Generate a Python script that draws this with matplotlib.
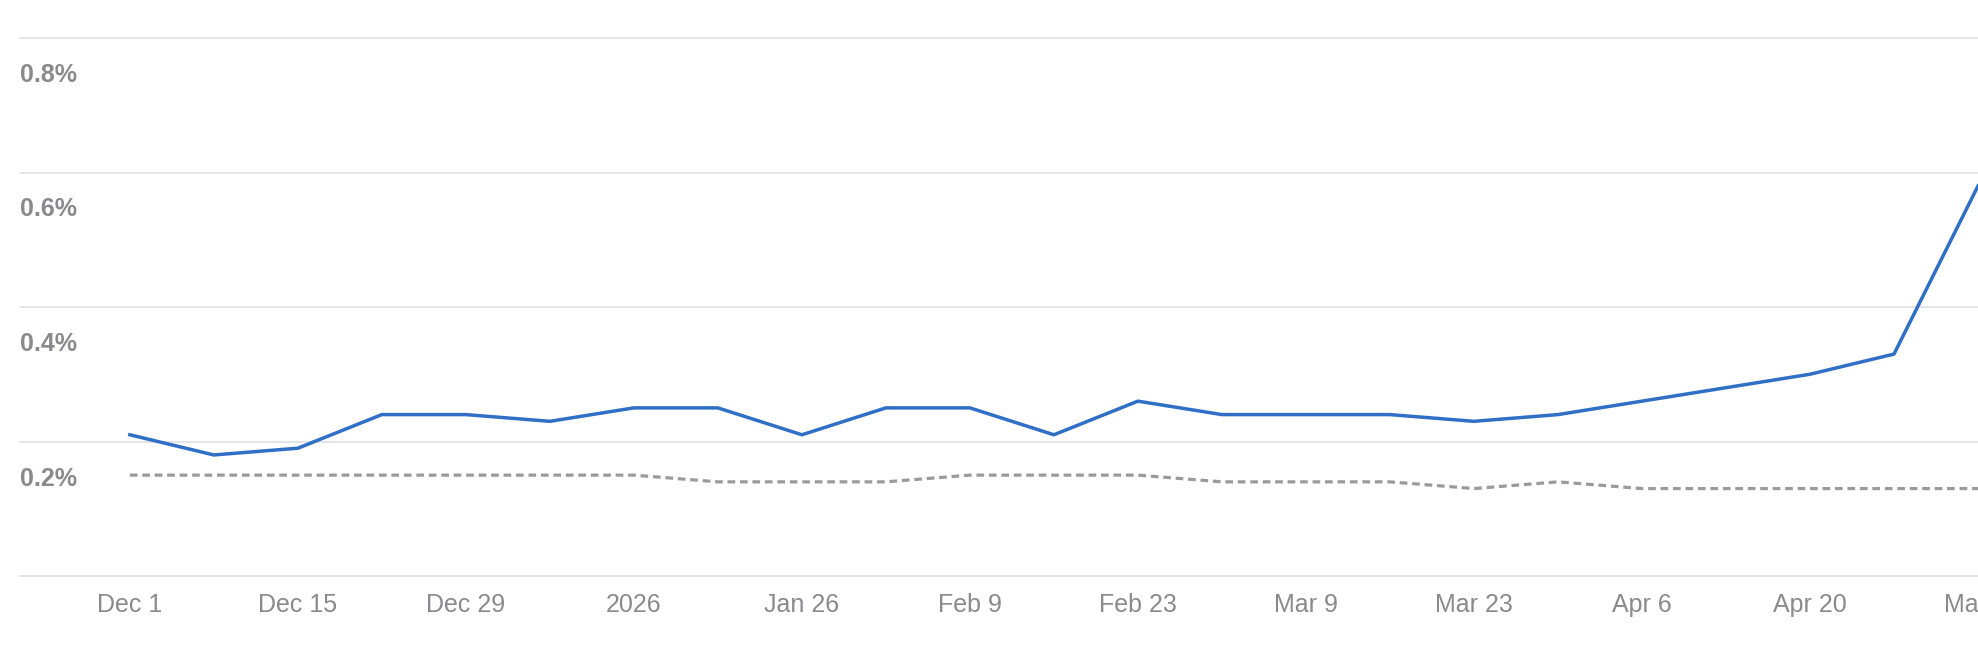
import matplotlib
matplotlib.use("Agg")
import matplotlib.pyplot as plt
import matplotlib.transforms as mtransforms
import pandas as pd

plt.rcParams['font.family'] = ['Liberation Sans', 'DejaVu Sans']

# weekly points, Dec 1 2025 .. May 4 2026
weeks = pd.date_range('2025-12-01', periods=23, freq='7D')
blue = [0.21, 0.18, 0.19, 0.24, 0.24, 0.23, 0.25, 0.25, 0.21, 0.25, 0.25, 0.21,
        0.26, 0.24, 0.24, 0.24, 0.23, 0.24, 0.26, 0.28, 0.30, 0.33, 0.58]
gray = [0.15, 0.15, 0.15, 0.15, 0.15, 0.15, 0.15, 0.14, 0.14, 0.14, 0.15, 0.15,
        0.15, 0.14, 0.14, 0.14, 0.13, 0.14, 0.13, 0.13, 0.13, 0.13, 0.13]

tick_dates = pd.date_range('2025-12-01', periods=12, freq='14D')
tick_labels = ['Dec 1', 'Dec 15', 'Dec 29', '2026', 'Jan 26', 'Feb 9', 'Feb 23',
               'Mar 9', 'Mar 23', 'Apr 6', 'Apr 20', 'May 4']
y_grid = [0.0, 0.2, 0.4, 0.6, 0.8]
y_labels = ['', '0.2%', '0.4%', '0.6%', '0.8%']

W, H = 1978, 650
fig = plt.figure(figsize=(W / 100, H / 100), dpi=100)
ax = fig.add_axes([20 / W, 74 / H, 1958 / W, 538 / H])

for v in y_grid:
    ax.axhline(v, color='#dadce0', lw=1.1, zorder=1, clip_on=False)

ax.plot(weeks, gray, color='#9a9a9a', lw=2.3, dashes=(2.4, 1.5), zorder=2)
ax.plot(weeks, blue, color='#2f6fc6', lw=2.5, zorder=3)

start = weeks[0]
ax.set_xlim(start - pd.Timedelta(days=9.15), start + pd.Timedelta(days=153.8))
ax.set_ylim(0, 0.8)

ax.set_xticks(tick_dates)
ax.set_xticklabels(tick_labels, fontsize=18, color='#8a8a8e')
ax.tick_params(axis='x', length=0, pad=12)
ax.set_yticks([])
for s in ax.spines.values():
    s.set_visible(False)

# y labels sit just under their gridline, inside the plot
ylab_tr = mtransforms.offset_copy(
    mtransforms.blended_transform_factory(ax.transAxes, ax.transData),
    fig=fig, x=0, y=-37, units='dots')
for v, lab in zip(y_grid, y_labels):
    if lab:
        ax.text(0, v, lab, transform=ylab_tr, ha='left', va='center',
                fontsize=18, fontweight='bold', color='#8a8a8e')

fig.savefig('out.png', dpi=100)
